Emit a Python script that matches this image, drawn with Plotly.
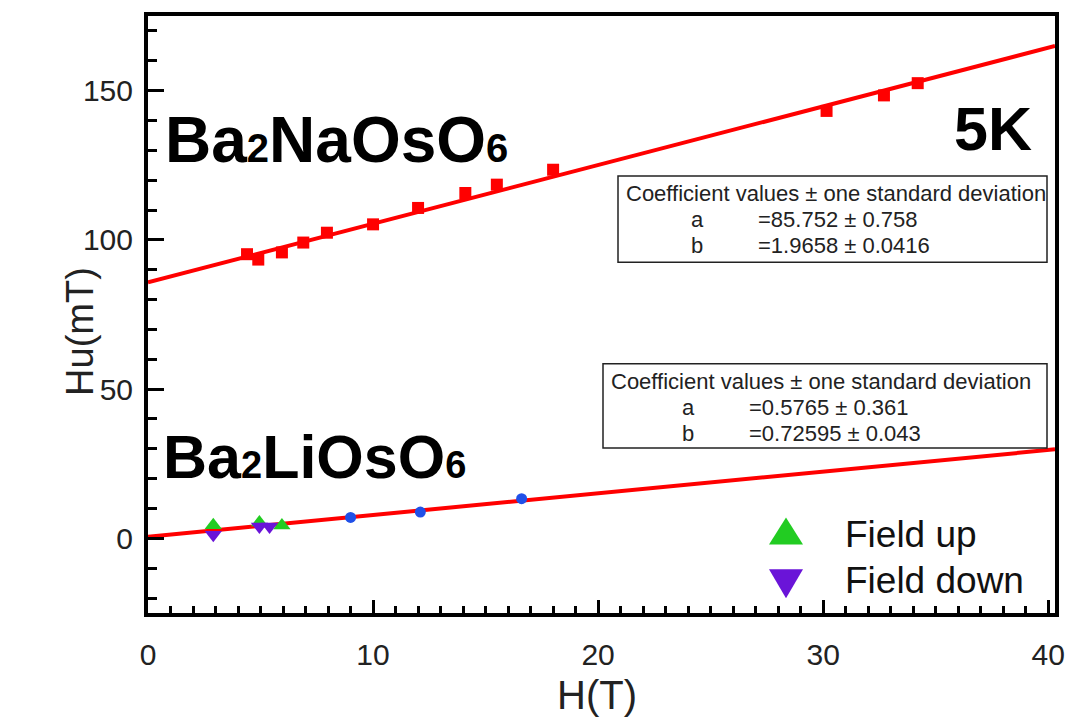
import plotly.graph_objects as go

# Ba2NaOsO6 (red squares)
na_field = [4.4, 4.9, 5.95, 6.9, 7.95, 10.0, 12.0, 14.1, 15.5, 18.0, 30.15, 32.7, 34.2]
na_hu = [95.2, 93.4, 95.8, 99.1, 102.4, 105.2, 110.7, 115.7, 118.5, 123.5, 143.2, 148.4, 152.5]

# Ba2LiOsO6
li_blue_field = [9.0, 12.1, 16.6]
li_blue_hu = [7.0, 8.8, 13.3]
li_up_field = [2.9, 4.95, 5.95]
li_up_hu = [4.4, 5.3, 4.3]
li_down_field = [2.9, 4.95, 5.4]
li_down_hu = [1.2, 4.0, 4.0]

# linear fits Hu = a + b*H
na_a, na_b = 85.752, 1.9658
li_a, li_b = 0.5765, 0.72595
fit_field = [0.0, 40.3]

W, H = 1077, 719
L, R, T, B = 148, 1055, 12, 613
FONT = "Arial, Liberation Sans, Helvetica, sans-serif"


def px(x):
    return (x - L) / (R - L)


def py(y):
    return (B - y) / (B - T)


fig = go.Figure()

fig.add_trace(go.Scatter(x=fit_field, y=[na_a + na_b * h for h in fit_field], mode="lines",
                         line=dict(color="#ff0000", width=4), showlegend=False))
fig.add_trace(go.Scatter(x=fit_field, y=[li_a + li_b * h for h in fit_field], mode="lines",
                         line=dict(color="#ff0000", width=4), showlegend=False))

fig.add_trace(go.Scatter(x=na_field, y=na_hu, mode="markers",
                         marker=dict(symbol="square", size=12, color="#ff0000"), showlegend=False))
fig.add_trace(go.Scatter(x=li_up_field, y=li_up_hu, mode="markers",
                         marker=dict(symbol="triangle-up", size=15, color="#22cc22"), showlegend=False))
fig.add_trace(go.Scatter(x=li_down_field, y=li_down_hu, mode="markers",
                         marker=dict(symbol="triangle-down", size=15, color="#6a14d8"), showlegend=False))
fig.add_trace(go.Scatter(x=li_blue_field, y=li_blue_hu, mode="markers",
                         marker=dict(symbol="circle", size=11, color="#2050e8"), showlegend=False))

annotations = []
shapes = []


def label(text, x, y, size, xanchor="left", bold=False, color="black", angle=0):
    annotations.append(dict(text=f"<b>{text}</b>" if bold else text, x=px(x), y=py(y),
                            xref="paper", yref="paper", xanchor=xanchor, yanchor="middle",
                            textangle=angle, showarrow=False,
                            font=dict(family=FONT, size=size, color=color)))


def formula(parts, size):
    # chemical formula with small digits resting near the baseline
    sub = round(size * 0.62)
    out = ""
    for p in parts:
        out += f"<span style='font-size:{sub}px'>{p}</span>" if p.isdigit() else p
    return out


label(formula(["Ba", "2", "NaOsO", "6"], 64), 163, 137, 64, bold=True)
label(formula(["Ba", "2", "LiOsO", "6"], 61), 161, 456, 61, bold=True)
label("5K", 1034, 126, 61, xanchor="right", bold=True)

# axis titles
label("Hu(mT)", 80, 330, 38, xanchor="center", color="#222", angle=-90)
label("H(T)", 597, 696, 40, xanchor="center", color="#222")


def coef_box(x0, x1, y0, y1, a_text, b_text, sym_x, val_x):
    shapes.append(dict(type="rect", xref="paper", yref="paper", x0=px(x0), x1=px(x1),
                       y0=py(y1), y1=py(y0), line=dict(color="#222", width=1.5),
                       fillcolor="white", layer="above"))
    label("Coefficient values ± one standard deviation", x0 + 6, y0 + 18, 22, color="#222")
    label("a", sym_x, y0 + 44, 22, xanchor="center", color="#222")
    label(a_text, val_x, y0 + 44, 22, color="#222")
    label("b", sym_x, y0 + 70, 22, xanchor="center", color="#222")
    label(b_text, val_x, y0 + 70, 22, color="#222")


coef_box(618, 1047, 173, 260, f"={na_a} ± 0.758", f"={na_b} ± 0.0416", 697, 756)
coef_box(603, 1047, 362, 447, f"={li_a} ± 0.361", f"={li_b} ± 0.043", 688, 747)

# legend drawn as pixel-sized triangles plus text
for cy, path, col in [(531, "M -17,-13 L 17,-13 L 0,14 Z", "#22cc22"),
                      (583, "M -17,14 L 17,14 L 0,-15 Z", "#6a14d8")]:
    shapes.append(dict(type="path", xref="paper", yref="paper", xsizemode="pixel", ysizemode="pixel",
                       xanchor=px(786), yanchor=py(cy), path=path, fillcolor=col, line=dict(width=0)))
label("Field up", 843, 534, 37, color="#111")
label("Field down", 843, 580, 37, color="#111")

fig.update_layout(
    width=W, height=H,
    margin=dict(l=L, r=W - R, t=T, b=H - B),
    paper_bgcolor="white", plot_bgcolor="white",
    font=dict(family=FONT, color="#222"),
    annotations=annotations, shapes=shapes,
    xaxis=dict(range=[0, 40.3], tickvals=[0, 10, 20, 30, 40], ticks="inside", ticklen=13, tickwidth=3,
               tickcolor="black", minor=dict(dtick=1, ticks="inside", ticklen=7, tickwidth=3, tickcolor="black"),
               showline=True, linewidth=4, linecolor="black", mirror=True, showgrid=False, zeroline=False,
               tickfont=dict(size=30, color="#222"), ticklabelstandoff=12),
    yaxis=dict(range=[-25, 175], tickvals=[0, 50, 100, 150], ticks="inside", ticklen=16, tickwidth=3,
               tickcolor="black", minor=dict(dtick=10, ticks="inside", ticklen=9, tickwidth=3, tickcolor="black"),
               showline=True, linewidth=4, linecolor="black", mirror=True, showgrid=False, zeroline=False,
               tickfont=dict(size=30, color="#222"), ticklabelstandoff=5),
)

fig.write_html("out.html")
